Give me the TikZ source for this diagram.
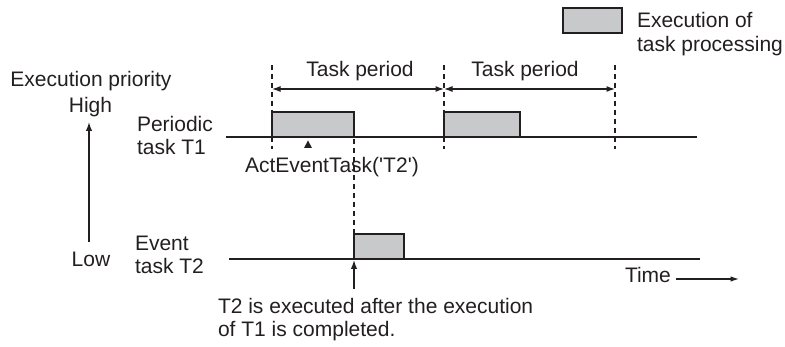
\documentclass[tikz,border=0pt]{standalone}
\usepackage{fontspec}
\setmainfont{Liberation Sans}
\usetikzlibrary{arrows.meta}
\definecolor{ink}{HTML}{231F20}
\definecolor{procfill}{HTML}{C8C9CA}
\begin{document}
\begin{tikzpicture}[x=1pt,y=-1pt,
  every node/.style={inner sep=0pt, outer sep=0pt, text=ink, font=\fontsize{21}{23.5}\selectfont},
  lbl/.style={align=left, anchor=base west},
  procbox/.style={draw=ink, fill=procfill, line width=1.5pt, anchor=south west},
  tline/.style={draw=ink, line width=1.5pt},
  dashline/.style={draw=ink, line width=1.4pt, dash pattern=on 5pt off 4pt},
  periodarrow/.style={draw=ink, line width=1.2pt, {Latex[length=8.5pt,width=6pt]}-{Latex[length=8.5pt,width=6pt]}},
  onearrow/.style={draw=ink, line width=1.4pt, -{Latex[length=9pt,width=6.5pt]}}
]
\useasboundingbox (0,0) rectangle (785,347);

% legend
\node[procbox, minimum width=59pt, minimum height=25pt] (leg) at (563,33) {};
\node[lbl] (legtxt) at (637,51.5) {Execution of\\task processing};

% priority axis
\node[anchor=base] (prio) at (91,87) {Execution priority};
\node[anchor=base] (high) at (90.5,113) {High};
\node[anchor=base] (low) at (91,267) {Low};
\coordinate (pbot) at (89,242);
\coordinate (ptop) at (89,122);
\draw[onearrow] (pbot) -- (ptop);

% task labels
\node[lbl] (t1lbl) at (137,155) {Periodic\\task T1};
\node[lbl] (t2lbl) at (135,274) {Event\\task T2};

% timelines
\coordinate (t1s) at (226,137);
\coordinate (t1e) at (697,137);
\coordinate (t2s) at (229,259);
\coordinate (t2e) at (700,259);
\draw[tline] (t1s) -- (t1e);
\draw[tline] (t2s) -- (t2e);

% execution boxes
\node[procbox, minimum width=82pt, minimum height=25pt] (b1) at (272,137) {};
\node[procbox, minimum width=76pt, minimum height=25pt] (b2) at (444,137) {};
\node[procbox, minimum width=50pt, minimum height=25pt] (b3) at (354,259) {};

% dashed period markers
\coordinate (d1t) at (272,65); \coordinate (d1b) at (272,149);
\coordinate (d2t) at (444,65); \coordinate (d2b) at (444,149);
\coordinate (d3t) at (615,65); \coordinate (d3b) at (615,149);
\coordinate (d4t) at (354,139); \coordinate (d4b) at (354,234);
\draw[dashline] (d1t) -- (d1b);
\draw[dashline] (d2t) -- (d2b);
\draw[dashline] (d3t) -- (d3b);
\draw[dashline] (d4t) -- (d4b);

% task periods
\coordinate (p1) at (272,89);
\coordinate (p2) at (444,89);
\coordinate (p3) at (615,89);
\draw[periodarrow] (p1) -- (p2);
\draw[periodarrow] (p2) -- (p3);
\node[anchor=base] (tp1) at (360,77) {Task period};
\node[anchor=base] (tp2) at (525,77) {Task period};

% ActEventTask marker
\coordinate (actip) at (308,140.5);
\fill[ink] (actip) -- ++(4,7.5) -- ++(-8,0) -- cycle;
\node[lbl] (act) at (245,173) {ActEventTask(\textquotesingle T2\textquotesingle)};

% T2 start arrow
\coordinate (t2arrb) at (354,289);
\coordinate (t2arrt) at (354,260);
\draw[onearrow] (t2arrb) -- (t2arrt);
\node[lbl] (note) at (218,337) {T2 is executed after the execution\\of T1 is completed.};

% time axis
\node[lbl] (time) at (625,283) {Time};
\coordinate (ts) at (676,279);
\coordinate (te) at (739,279);
\draw[draw=ink, line width=1.2pt, -{Latex[length=8.5pt,width=5.5pt]}] (ts) -- (te);
\end{tikzpicture}
\end{document}
